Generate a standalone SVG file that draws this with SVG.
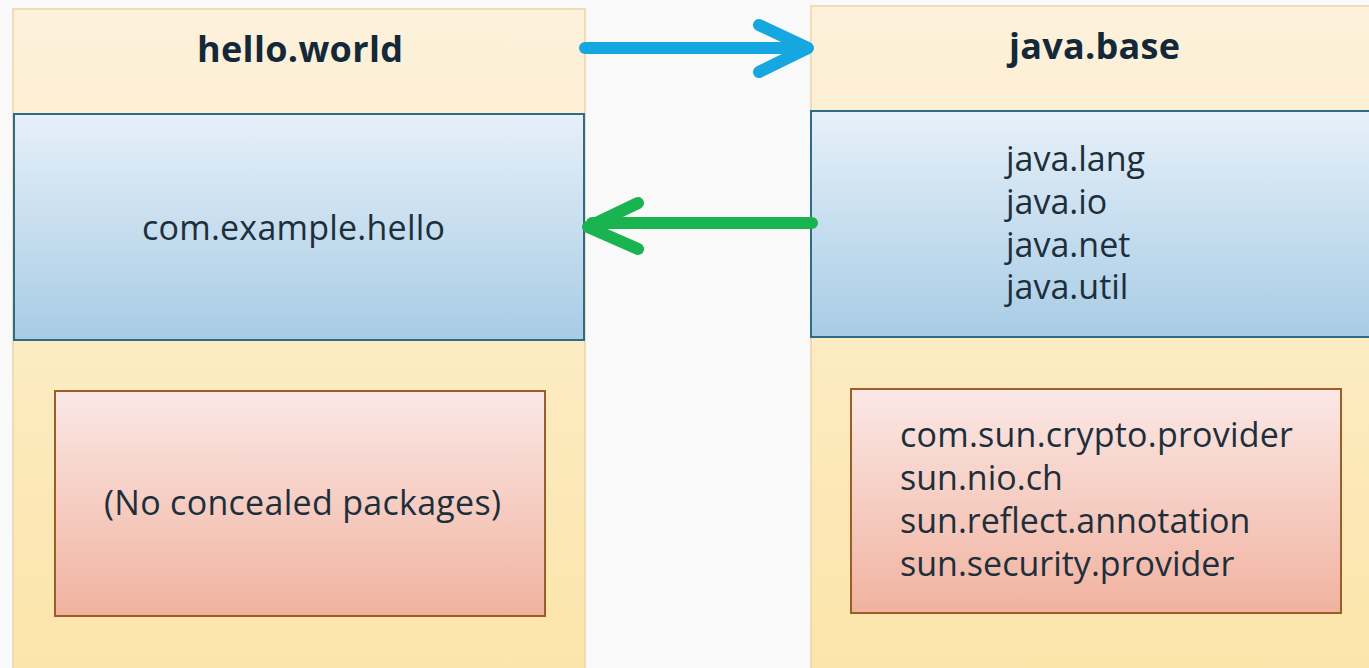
<svg xmlns="http://www.w3.org/2000/svg" width="1369" height="668" viewBox="0 0 1369 668">
<defs>
<linearGradient id="gOuter" x1="0" y1="0" x2="0" y2="1"><stop offset="0" stop-color="#fdf1dc"/><stop offset="1" stop-color="#fce5a9"/></linearGradient>
<linearGradient id="gBlue" x1="0" y1="0" x2="0" y2="1"><stop offset="0" stop-color="#e6f0f9"/><stop offset="1" stop-color="#a8cce5"/></linearGradient>
<linearGradient id="gPink" x1="0" y1="0" x2="0" y2="1"><stop offset="0" stop-color="#fbe8e6"/><stop offset="1" stop-color="#f1b29f"/></linearGradient>
<style>
.outer{fill:url(#gOuter);stroke:#ebd3a8;stroke-width:1.5}
.blue{fill:url(#gBlue);stroke:#2e6b86;stroke-width:2}
.pink{fill:url(#gPink);stroke:#9c5e28;stroke-width:2}
.t{font-family:"Open Sans","Liberation Sans",sans-serif;fill:#1e2f3c;font-size:34px}
.h{font-family:"Open Sans","Liberation Sans",sans-serif;fill:#13293a;font-size:36px;font-weight:bold}
.ab{fill:none;stroke:#16a7e0;stroke-width:12;stroke-linecap:round;stroke-linejoin:round}
.ag{fill:none;stroke:#19b350;stroke-width:12;stroke-linecap:round;stroke-linejoin:round}
</style>
</defs>
<rect width="1369" height="668" fill="#f9f9f9"/>
<g id="hello-world">
<rect class="outer" x="13" y="9" width="572" height="670"/>
<text class="h" x="197" y="62" textLength="206">hello.world</text>
</g>
<g id="hello-exported">
<rect class="blue" x="14" y="114" width="570" height="226"/>
<text class="t" x="142" y="240" textLength="303">com.example.hello</text>
</g>
<g id="hello-concealed">
<rect class="pink" x="55" y="391" width="490" height="225"/>
<text class="t" x="104" y="515" textLength="397">(No concealed packages)</text>
</g>
<g id="java-base">
<rect class="outer" x="811" y="6" width="570" height="670"/>
<text class="h" x="1009" y="59" textLength="171">java.base</text>
</g>
<g id="java-exported">
<rect class="blue" x="811" y="111" width="570" height="226"/>
<text class="t" x="1006" y="171">java.lang</text>
<text class="t" x="1006" y="214">java.io</text>
<text class="t" x="1006" y="257">java.net</text>
<text class="t" x="1006" y="299">java.util</text>
</g>
<g id="java-concealed">
<rect class="pink" x="851" y="389" width="490" height="224"/>
<text class="t" x="900" y="447" textLength="393">com.sun.crypto.provider</text>
<text class="t" x="900" y="490">sun.nio.ch</text>
<text class="t" x="900" y="533">sun.reflect.annotation</text>
<text class="t" x="900" y="576">sun.security.provider</text>
</g>
<g id="connectors">
<path class="ab" d="M585 48 H802 M759 25 L808 48 L759 72"/>
<path class="ag" d="M812 223 H592 M638 203 L588 227 L638 249"/>
</g>
</svg>
